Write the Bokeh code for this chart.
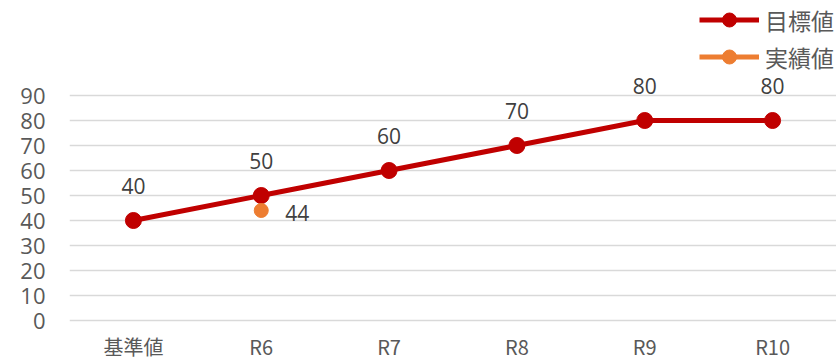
from bokeh.plotting import figure
from bokeh.models import FactorRange, Range1d, FixedTicker, Legend, LegendItem, ColumnDataSource
from bokeh.core.properties import value
from bokeh.embed import file_html
from bokeh.resources import INLINE

categories = ["基準値", "R6", "R7", "R8", "R9", "R10"]
target = [40, 50, 60, 70, 80, 80]
actual_cats = ["R6"]
actual = [44]
y_ticks = [0, 10, 20, 30, 40, 50, 60, 70, 80, 90]

RED = "#C00000"
ORANGE = "#ED7D31"
GREY = "#595959"
DARK = "#404040"

p = figure(width=836, height=363, x_range=FactorRange(*categories, range_padding=0),
           y_range=Range1d(-2, 128), output_backend="svg", toolbar_location=None,
           min_border_left=69, min_border_right=0, min_border_top=0, min_border_bottom=38)
p.outline_line_color = None
p.xgrid.grid_line_color = None
p.ygrid.grid_line_color = "#D9D9D9"
p.ygrid.grid_line_width = 1.5
p.yaxis.ticker = FixedTicker(ticks=y_ticks)
p.yaxis.axis_line_color = None
p.yaxis.major_tick_line_color = None
p.yaxis.minor_tick_line_color = None
p.yaxis.major_tick_out = 0
p.yaxis.minor_tick_out = 0
p.yaxis.major_label_standoff = 24
p.yaxis.major_label_text_font = "Open Sans"
p.yaxis.major_label_text_font_size = "22px"
p.yaxis.major_label_text_color = GREY
p.xaxis.axis_line_color = None
p.xaxis.major_tick_line_color = None
p.xaxis.major_tick_out = 0
p.xaxis.major_label_standoff = 6
p.xaxis.major_label_text_font = "Noto Sans CJK JP"
p.xaxis.major_label_text_font_size = "20px"
p.xaxis.major_label_text_color = GREY

src_t = ColumnDataSource(dict(x=categories, y=target, lab=[str(v) for v in target]))
src_a = ColumnDataSource(dict(x=actual_cats, y=actual, lab=[str(v) for v in actual]))

l1 = p.line("x", "y", source=src_t, line_color=RED, line_width=5)
s1 = p.scatter("x", "y", source=src_t, size=16, fill_color=RED, line_color=RED)
l2 = p.line("x", "y", source=src_a, line_color=ORANGE, line_width=5)
s2 = p.scatter("x", "y", source=src_a, size=14, fill_color=ORANGE, line_color=ORANGE)

p.text("x", "y", text="lab", source=src_t, y_offset=-35, text_align="center",
       text_baseline="middle", text_font=value("Open Sans"), text_font_size="21px", text_color=DARK)
p.text("x", "y", text="lab", source=src_a, x_offset=24, y_offset=2, text_align="left",
       text_baseline="middle", text_font=value("Open Sans"), text_font_size="21px", text_color=DARK)

legend = Legend(items=[LegendItem(label="目標値", renderers=[l1, s1]),
                       LegendItem(label="実績値", renderers=[l2, s2])],
                location="top_right", margin=2, padding=0, spacing=2,
                glyph_width=60, glyph_height=35, label_height=35, label_standoff=6,
                label_text_font="Noto Sans CJK JP", label_text_font_size="23px",
                label_text_color=GREY, background_fill_alpha=0, border_line_color=None)
p.add_layout(legend)

open("out.html", "w").write(file_html(p, INLINE))
